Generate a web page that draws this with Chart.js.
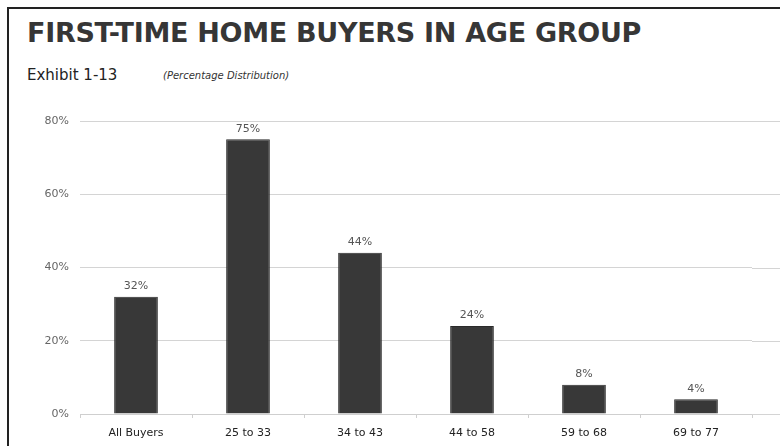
<!DOCTYPE html>
<html lang="en">
<head>
    <meta charset="UTF-8">
    <title>First-Time Home Buyers in Age Group</title>
    <script src="https://cdn.jsdelivr.net/npm/chart.js"></script>
    <style>
        html, body { margin: 0; padding: 0; background: #fff; }
        #wrap { position: relative; width: 780px; height: 446px; overflow: hidden; background: #fff; }
        #frame-top { position: absolute; left: 7px; top: 7px; width: 773px; height: 2px; background: #222; }
        #frame-left { position: absolute; left: 7px; top: 7px; width: 2px; height: 439px; background: #222; }
        h1 { position: absolute; left: 27px; top: 17px; margin: 0; font: bold 27px "DejaVu Sans", sans-serif; color: #363636; white-space: nowrap; letter-spacing: -0.3px; }
        #exhibit { position: absolute; left: 27px; top: 66px; font: 15px "DejaVu Sans", sans-serif; color: #222; }
        #dist { position: absolute; left: 163px; top: 70px; font: italic 10px "DejaVu Sans", sans-serif; color: #333; }
        #chart { position: absolute; left: 0; top: 0; }
    </style>
</head>
<body>
<div id="wrap">
    <div id="frame-top"></div>
    <div id="frame-left"></div>
    <h1>FIRST-TIME HOME BUYERS IN AGE GROUP</h1>
    <div id="exhibit">Exhibit 1-13</div>
    <div id="dist">(Percentage Distribution)</div>
    <canvas id="chart" width="780" height="446"></canvas>
</div>

<script>
    const ageGroups = ["All Buyers", "25 to 33", "34 to 43", "44 to 58", "59 to 68", "69 to 77"];
    const firstTimeShare = [32, 75, 44, 24, 8, 4];
    const yTicks = [0, 20, 40, 60, 80];

    // value labels above each bar
    const barLabels = {
        id: "barLabels",
        afterDatasetsDraw(chart) {
            const ctx = chart.ctx;
            const meta = chart.getDatasetMeta(0);
            ctx.save();
            ctx.font = "11px 'DejaVu Sans', sans-serif";
            ctx.fillStyle = "#555";
            ctx.textAlign = "center";
            ctx.textBaseline = "bottom";
            meta.data.forEach((bar, i) => {
                ctx.fillText(firstTimeShare[i] + "%", bar.x, bar.y - 5);
            });
            ctx.restore();
        }
    };

    // grid lines in the exhibit run on to the right edge
    const extendGrid = {
        id: "extendGrid",
        beforeDatasetsDraw(chart) {
            const ctx = chart.ctx;
            const y = chart.scales.y;
            ctx.save();
            ctx.lineWidth = 1;
            yTicks.forEach(v => {
                const py = Math.round(y.getPixelForValue(v)) + 0.5;
                ctx.strokeStyle = "#d4d4d4";
                ctx.beginPath();
                ctx.moveTo(chart.chartArea.right, py);
                ctx.lineTo(chart.width, py);
                ctx.stroke();
            });
            ctx.restore();
        }
    };

    new Chart(document.getElementById("chart"), {
        type: "bar",
        data: {
            labels: ageGroups,
            datasets: [{
                data: firstTimeShare,
                backgroundColor: "#383838",
                borderColor: "#2a2a2a",
                borderWidth: 1,
                categoryPercentage: 1,
                barPercentage: 0.39
            }]
        },
        options: {
            responsive: false,
            animation: false,
            layout: { padding: { left: 8, right: 28, top: 121, bottom: 0 } },
            plugins: {
                legend: { display: false },
                tooltip: { enabled: false }
            },
            scales: {
                x: {
                    afterFit: s => { s.height = 32; },
                    grid: { drawOnChartArea: false, drawTicks: true, tickLength: 4, color: "#cfcfcf", offset: true },
                    border: { color: "#cfcfcf" },
                    ticks: { color: "#222", padding: 9, font: { family: "DejaVu Sans", size: 11 } }
                },
                y: {
                    min: 0,
                    max: 80,
                    afterFit: s => { s.width = 72; },
                    afterBuildTicks: s => { s.ticks = yTicks.map(v => ({ value: v })); },
                    grid: { color: "#d4d4d4", drawTicks: false },
                    border: { display: false },
                    ticks: {
                        color: "#666",
                        padding: 11,
                        font: { family: "DejaVu Sans", size: 11 },
                        callback: v => v + "%"
                    }
                }
            }
        },
        plugins: [barLabels, extendGrid]
    });
</script>
</body>
</html>
